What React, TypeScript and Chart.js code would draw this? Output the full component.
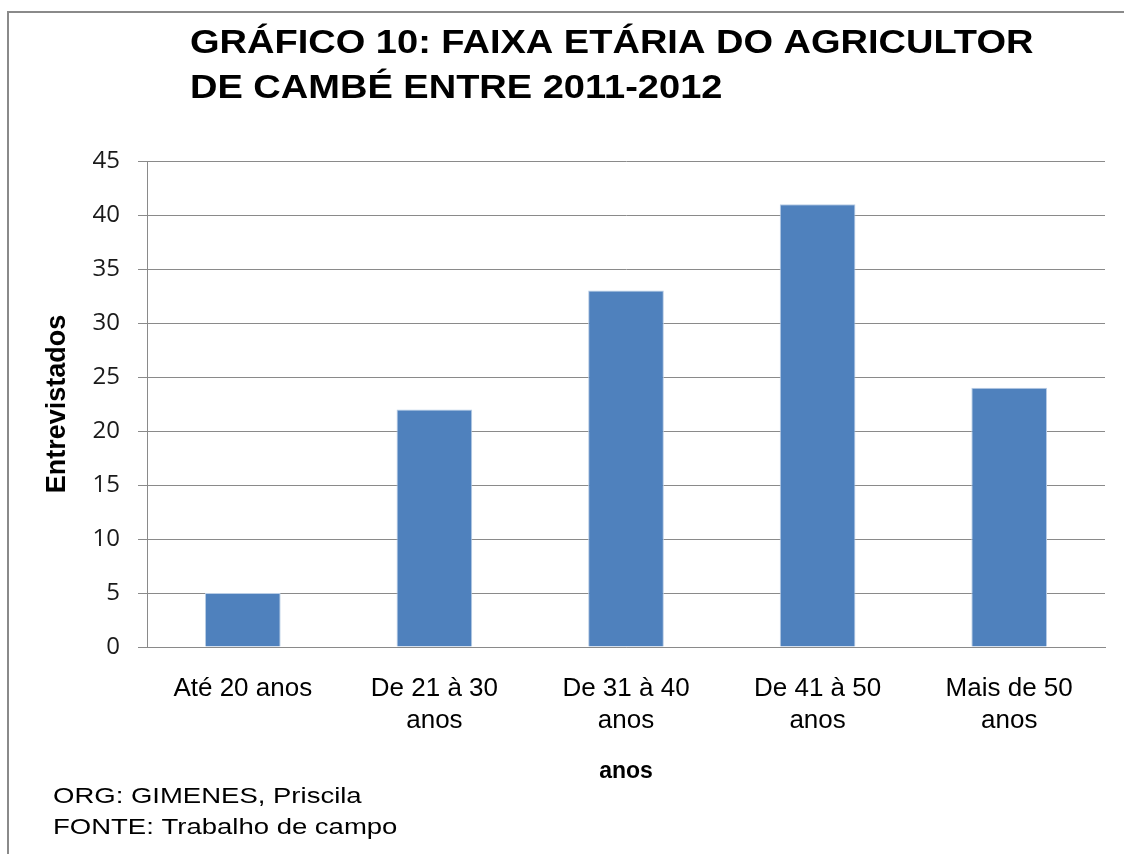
import React, { useEffect, useRef } from "react";
import { Chart, registerables } from "chart.js";

Chart.register(...registerables);

const categories: (string | string[])[] = [
  "Até 20 anos",
  ["De 21 à 30", "anos"],
  ["De 31 à 40", "anos"],
  ["De 41 à 50", "anos"],
  ["Mais de 50", "anos"],
];
const entrevistados = [5, 22, 33, 41, 24];
const yMin = 0;
const yMax = 45;
const yStep = 5;
const titleLines = [
  "GRÁFICO 10: FAIXA ETÁRIA DO AGRICULTOR",
  "DE CAMBÉ ENTRE 2011-2012",
];
const footLines = ["ORG: GIMENES, Priscila", "FONTE: Trabalho de campo"];
const yAxisTitle = "Entrevistados";
const xAxisTitle = "anos";

const decorPlugin = {
  id: "decor",
  beforeDraw(chart: any) {
    const ctx = chart.ctx as CanvasRenderingContext2D;
    ctx.save();
    ctx.fillStyle = "#ffffff";
    ctx.fillRect(0, 0, chart.width, chart.height);
    ctx.fillStyle = "#8a8a8a";
    ctx.fillRect(7, 11, 2, chart.height - 11);
    ctx.fillRect(7, 11, chart.width - 7, 2);
    ctx.restore();
  },
  afterDraw(chart: any) {
    const ctx = chart.ctx as CanvasRenderingContext2D;
    ctx.save();
    ctx.fillStyle = "#000000";
    ctx.textBaseline = "alphabetic";
    ctx.textAlign = "left";
    ctx.font = "bold 33px 'Liberation Sans', Arial, sans-serif";
    const titleBase = [53, 98];
    titleLines.forEach((t, i) => {
      ctx.save();
      ctx.translate(190, titleBase[i]);
      ctx.scale(1.152, 1);
      ctx.fillText(t, 0, 0);
      ctx.restore();
    });
    ctx.font = "22px 'Liberation Sans', Arial, sans-serif";
    const footBase = [803, 834];
    footLines.forEach((t, i) => {
      ctx.save();
      ctx.translate(53, footBase[i]);
      ctx.scale(1.25, 1);
      ctx.fillText(t, 0, 0);
      ctx.restore();
    });
    ctx.restore();
  },
};

export default function App() {
  const ref = useRef<HTMLCanvasElement | null>(null);
  useEffect(() => {
    if (!ref.current) return;
    const chart = new Chart(ref.current, {
      type: "bar",
      data: {
        labels: categories,
        datasets: [
          {
            label: yAxisTitle,
            data: entrevistados,
            backgroundColor: "#4F81BD",
            borderColor: "#B9CDE5",
            borderWidth: 1,
            categoryPercentage: 1,
            barPercentage: 0.395,
          },
        ],
      },
      options: {
        animation: false,
        responsive: false,
        maintainAspectRatio: false,
        layout: { padding: { top: 161, right: 19, left: 0, bottom: 0 } },
        plugins: {
          legend: { display: false },
          title: { display: false },
          tooltip: { enabled: false },
        },
        scales: {
          x: {
            grid: { display: false, drawTicks: false },
            border: { display: true, color: "#8a8a8a", width: 1 },
            ticks: {
              color: "#000000",
              padding: 26,
              maxRotation: 0,
              autoSkip: false,
              font: { family: "'Liberation Sans', Arial, sans-serif", size: 26, lineHeight: 1.23 },
            },
            title: {
              display: true,
              text: xAxisTitle,
              color: "#000000",
              font: { family: "'Liberation Sans', Arial, sans-serif", size: 23, weight: "bold", lineHeight: 1.2 },
              padding: { top: 0, bottom: 69 },
            },
            afterFit(scale: any) {
              scale.height = 207;
            },
          },
          y: {
            min: yMin,
            max: yMax,
            ticks: {
              stepSize: yStep,
              color: "#1a1a1a",
              padding: 18,
              font: { family: "'Open Sans', sans-serif", size: 24 },
            },
            grid: { color: "#8a8a8a", lineWidth: 1, drawTicks: true, tickLength: 9 },
            border: { display: true, color: "#8a8a8a", width: 1 },
            title: {
              display: true,
              text: yAxisTitle,
              color: "#000000",
              font: { family: "'Liberation Sans', Arial, sans-serif", size: 27, weight: "bold", lineHeight: 1.2 },
              padding: { top: 41, bottom: 0 },
            },
            afterFit(scale: any) {
              scale.width = 147;
            },
          },
        },
      },
      plugins: [decorPlugin],
    });
    return () => chart.destroy();
  }, []);
  return (
    <div style={{ position: "absolute", left: 0, top: 0, width: 1124, height: 854 }}>
      <canvas ref={ref} width={1124} height={854} style={{ display: "block", width: 1124, height: 854 }} />
    </div>
  );
}
